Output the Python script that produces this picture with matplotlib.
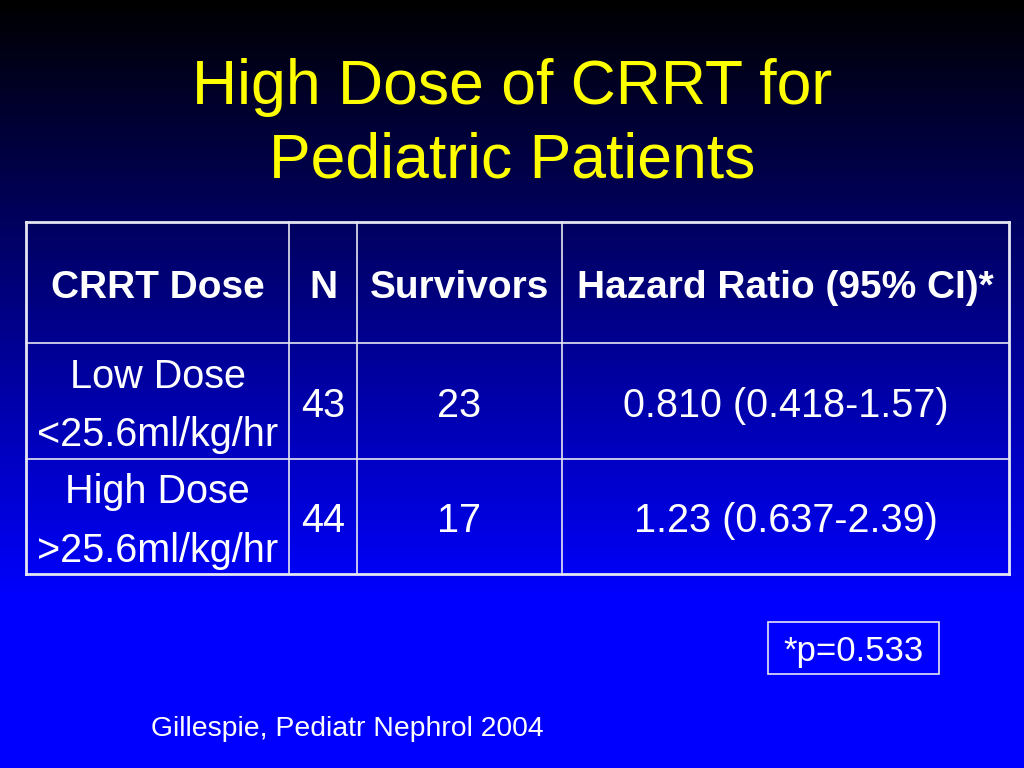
import numpy as np
import matplotlib.pyplot as plt
from matplotlib.patches import Rectangle

plt.rcParams['font.family'] = ['Liberation Sans', 'DejaVu Sans']

title = "High Dose of CRRT for\nPediatric Patients"
headers = ["CRRT Dose", "N", "Survivors", "Hazard Ratio (95% CI)*"]
dose_labels = ["Low Dose\n<25.6ml/kg/hr", "High Dose\n>25.6ml/kg/hr"]
n_values = [43, 44]
survivors = [23, 17]
hazard = ["0.810 (0.418-1.57)", "1.23 (0.637-2.39)"]
p_note = "*p=0.533"
source = "Gillespie, Pediatr Nephrol 2004"

# table grid in pixels
col_edges = [26, 289, 357, 562, 1009]
row_edges = [222, 343, 459, 574]

fig = plt.figure(figsize=(10.24, 7.68), dpi=100)
ax = fig.add_axes([0, 0, 1, 1])
ax.set_xlim(0, 1024)
ax.set_ylim(768, 0)
ax.axis('off')

# background: black at top fading into blue
grad = np.clip(np.linspace(0, 1, 768) / 0.78, 0, 1)
img = np.zeros((768, 1, 3))
img[:, 0, 2] = grad
ax.imshow(img, extent=[0, 1024, 768, 0], aspect='auto', zorder=0)

ax.text(512, 124, title, color='#ffff00', fontsize=45, ha='center', va='center',
        linespacing=1.31)

lc = '#e6e6f2'
for x in col_edges:
    lw = 2 if x in (col_edges[0], col_edges[-1]) else 1.2
    ax.plot([x, x], [row_edges[0], row_edges[-1]], color=lc, lw=lw)
for y in row_edges:
    lw = 2 if y in (row_edges[0], row_edges[-1]) else 1.2
    ax.plot([col_edges[0], col_edges[-1]], [y, y], color=lc, lw=lw)

def cx(i):
    return (col_edges[i] + col_edges[i + 1]) / 2

def cy(j):
    return (row_edges[j] + row_edges[j + 1]) / 2

for i, h in enumerate(headers):
    ax.text(cx(i), cy(0) + 6, h, color='white', fontsize=28, fontweight='bold',
            ha='center', va='center')

for j in range(len(dose_labels)):
    y = cy(j + 1) + 5
    ax.text(cx(0), y, dose_labels[j], color='white', fontsize=28.5, ha='center',
            va='center', linespacing=1.68)
    ax.text(cx(1), y, str(n_values[j]), color='white', fontsize=28.5, ha='center', va='center')
    ax.text(cx(2), y, str(survivors[j]), color='white', fontsize=28.5, ha='center', va='center')
    ax.text(cx(3), y, hazard[j], color='white', fontsize=28.5, ha='center', va='center')

ax.add_patch(Rectangle((768, 622), 171, 52, fill=False, ec=lc, lw=1.2))
ax.text(853.5, 651, p_note, color='white', fontsize=25, ha='center', va='center')

ax.text(151, 729, source, color='white', fontsize=20.4, ha='left', va='center')

fig.savefig('out.png', dpi=100)
